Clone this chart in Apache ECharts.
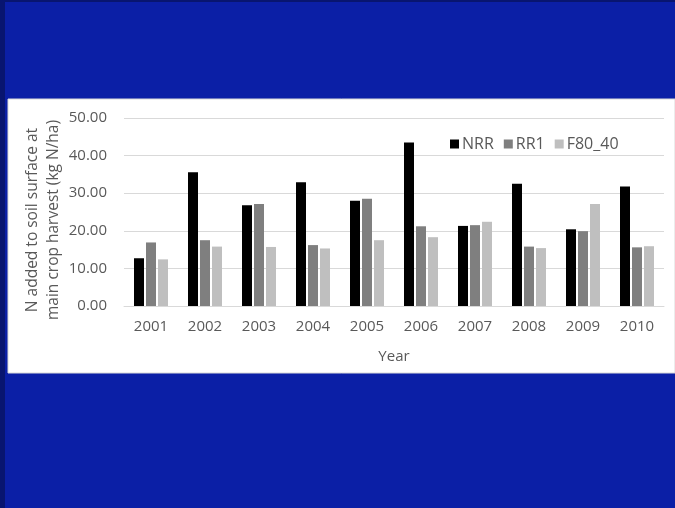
<!DOCTYPE html>
<html>
<head>
<meta charset="utf-8">
<script src="https://cdn.jsdelivr.net/npm/echarts@6/dist/echarts.min.js"></script>
<style>
  html, body { margin: 0; padding: 0; }
  #chart { width: 675px; height: 508px; }
</style>
</head>
<body>
<div id="chart"></div>
<script>
const years = ['2001', '2002', '2003', '2004', '2005', '2006', '2007', '2008', '2009', '2010'];
const nrr = [12.7, 35.6, 26.8, 32.9, 28.0, 43.5, 21.3, 32.5, 20.4, 31.8];
const rr1 = [16.9, 17.5, 27.1, 16.2, 28.5, 21.2, 21.5, 15.8, 19.9, 15.6];
const f80_40 = [12.4, 15.8, 15.7, 15.3, 17.5, 18.3, 22.4, 15.4, 27.1, 15.9];

const textColor = '#595959';
const font = '"Open Sans", sans-serif';

const chart = echarts.init(document.getElementById('chart'));

// slide background: blue with a white band behind the chart
const graphic = [
  { type: 'rect', shape: { x: 0, y: 0, width: 675, height: 508 }, style: { fill: '#0b1fa6' }, z: -10 },
  { type: 'rect', shape: { x: 0, y: 0, width: 5, height: 508 }, style: { fill: '#081570' }, z: -9 },
  { type: 'rect', shape: { x: 0, y: 0, width: 675, height: 2 }, style: { fill: '#081570' }, z: -9 },
  { type: 'rect', shape: { x: 8, y: 99, width: 667, height: 274 }, style: { fill: '#ffffff', stroke: '#d9d9d9', lineWidth: 1 }, z: -8 }
];

function barSeries(name, data, color) {
  return {
    name,
    type: 'bar',
    data,
    barWidth: 10,
    barGap: '20%',
    itemStyle: { color },
    emphasis: { disabled: true }
  };
}

chart.setOption({
  animation: false,
  graphic,
  textStyle: { fontFamily: font },
  legend: {
    top: 131,
    left: 445,
    itemWidth: 9,
    itemHeight: 9,
    itemGap: 10,
    icon: 'rect',
    textStyle: { color: textColor, fontSize: 16, fontFamily: font, padding: [0, 0, 0, -2] },
    data: ['NRR', 'RR1', 'F80_40']
  },
  grid: { left: 124, right: 11, top: 118, bottom: 202 },
  xAxis: {
    type: 'category',
    data: years,
    name: 'Year',
    nameLocation: 'middle',
    nameGap: 43,
    nameTextStyle: { color: textColor, fontSize: 15, fontFamily: font },
    axisLine: { lineStyle: { color: '#d9d9d9' } },
    axisTick: { show: false },
    axisLabel: { color: textColor, fontSize: 15, margin: 13, fontFamily: font }
  },
  yAxis: {
    type: 'value',
    min: 0,
    max: 50,
    interval: 10,
    name: 'N added to soil surface at\nmain crop harvest (kg N/ha)',
    nameLocation: 'middle',
    nameRotate: 90,
    nameGap: 60,
    nameMoveOverlap: false,
    nameTextStyle: { color: textColor, fontSize: 15.5, lineHeight: 21, fontFamily: font, padding: [0, 16, 0, 0] },
    axisLine: { show: false },
    axisTick: { show: false },
    splitLine: { lineStyle: { color: '#d9d9d9' } },
    axisLabel: {
      color: textColor,
      fontSize: 15,
      margin: 17,
      fontFamily: font,
      formatter: (v) => v.toFixed(2)
    }
  },
  series: [
    barSeries('NRR', nrr, '#000000'),
    barSeries('RR1', rr1, '#7f7f7f'),
    barSeries('F80_40', f80_40, '#bfbfbf')
  ]
});
</script>
</body>
</html>
